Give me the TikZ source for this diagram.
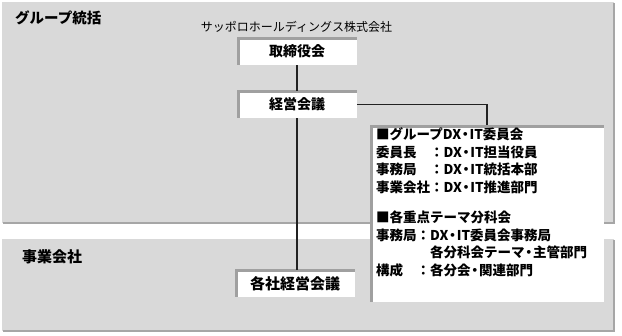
\documentclass[tikz,border=0pt]{standalone}
\usepackage{fontspec}
\setmainfont{Noto Sans CJK JP}
\newcommand\dt{\makebox[0.62em][c]{・}}
\definecolor{panelc}{HTML}{D9D9D9}
\definecolor{pshadow}{HTML}{A6A6A6}
\definecolor{ishadow}{HTML}{A0A0A0}
\definecolor{linec}{HTML}{222222}
\tikzset{
  panel/.style={fill=panelc},
  wbox/.style={fill=white, inner sep=0pt, minimum width=120pt, minimum height=27pt,
    font=\fontsize{14}{16}\selectfont\bfseries,
    path picture={\draw[ishadow, line width=5pt]
      (path picture bounding box.south west) -- (path picture bounding box.north west)
      -- (path picture bounding box.north east);}},
  conn/.style={linec, line width=1.3pt},
  title/.style={anchor=west, inner sep=0pt, font=\fontsize{14.5}{16}\selectfont\bfseries}
}
\begin{document}
\begin{tikzpicture}[x=1pt, y=-1pt]
\useasboundingbox (0,0) rectangle (622,336);
% panels
\fill[panelc] (2,2) rectangle (614,223);
\draw[pshadow, line width=2pt] (614,3) -- (614,223) -- (3,223);
\fill[panelc] (2,239) rectangle (614,331);
\draw[pshadow, line width=2pt] (614,240) -- (614,331) -- (3,331);
\node[title] (t1) at (15,17.5) {グループ統括};
\node[title, font=\fontsize{15}{17}\selectfont\bfseries] (t2) at (22,257) {事業会社};
% company label
\node[inner sep=0pt, font=\fontsize{12}{14}\selectfont] (hd) at (296.5,27) {サッポロホールディングス株式会社};
% boxes
\node[wbox] (tori) at (297,51.5) {取締役会};
\node[wbox] (keiei) at (297,104.5) {経営会議};
\node[wbox, font=\fontsize{15}{17}\selectfont\bfseries] (kaku) at (295,283.5) {各社経営会議};
\node[wbox, minimum width=234pt, minimum height=177pt] (info) at (487,214) {};
% connectors
\draw[conn] (tori.south) -- (keiei.north);
\draw[conn] (keiei.south) -- (keiei.south |- kaku.north);
\draw[conn] (keiei.east) -| (info.north);
% info text
\node[anchor=north west, inner sep=0pt, align=left,
      font=\fontsize{13.5}{17.6}\selectfont\bfseries] (infotext) at (376,127.5)
{■グループDX\dt IT委員会\\
委員長　：DX\dt IT担当役員\\
事務局　：DX\dt IT統括本部\\
事業会社：DX\dt IT推進部門\\[12.6pt]
■各重点テーマ分科会\\
事務局：DX\dt IT委員会事務局\\
　　　　各分科会テーマ\dt 主管部門\\
構成　：各分会\dt 関連部門};
\end{tikzpicture}
\end{document}
